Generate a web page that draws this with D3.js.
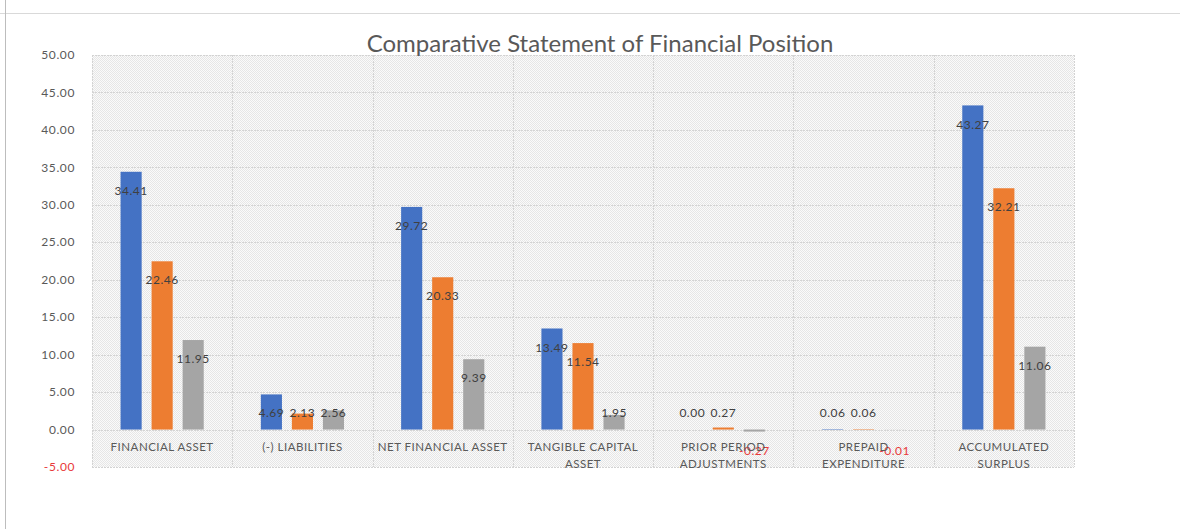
<!DOCTYPE html>
<html lang="en">
<head>
<meta charset="utf-8">
<script src="https://d3js.org/d3.v7.min.js"></script>
<style>
  body { margin: 0; background: #fff; }
  svg text { font-family: Lato, "Open Sans", sans-serif; }
  .tick-y { font-size: 12px; fill: #595959; letter-spacing: 0.6px; }
  .cat { font-size: 11.5px; fill: #595959; letter-spacing: 0.5px; }
  .val { font-size: 12px; fill: #404040; letter-spacing: 0.5px; }
</style>
</head>
<body>
<svg width="1180" height="529"></svg>
<script>
  // chart data
  var categories = ["FINANCIAL ASSET", "(-) LIABILITIES", "NET FINANCIAL ASSET",
    "TANGIBLE CAPITAL ASSET", "PRIOR PERIOD ADJUSTMENTS", "PREPAID EXPENDITURE",
    "ACCUMULATED SURPLUS"];
  // how each category label breaks onto lines
  var tickLines = [["FINANCIAL ASSET"], ["(-) LIABILITIES"], ["NET FINANCIAL ASSET"],
    ["TANGIBLE CAPITAL", "ASSET"], ["PRIOR PERIOD", "ADJUSTMENTS"],
    ["PREPAID", "EXPENDITURE"], ["ACCUMULATED", "SURPLUS"]];
  var series1 = [34.41, 4.69, 29.72, 13.49, 0.00, 0.06, 43.27];
  var series2 = [22.46, 2.13, 20.33, 11.54, 0.27, 0.06, 32.21];
  var series3 = [11.95, 2.56, 9.39, 1.95, -0.27, -0.01, 11.06];
  var yTicks = [-5, 0, 5, 10, 15, 20, 25, 30, 35, 40, 45, 50];
  var seriesColors = ["#4472C4", "#ED7D31", "#A5A5A5"];
  var title = "Comparative Statement of Financial Position";

  var allSeries = [series1, series2, series3];

  var svg = d3.select("svg");
  // plot area edges ("top" is taken by window.top, hence the prefix)
  var plotL = 92, plotR = 1074, plotT = 55, plotB = 467;

  var x = d3.scaleBand().domain(categories).range([plotL, plotR]);
  var inner = d3.scaleBand().domain([0, 1, 2])
      .range([0, x.bandwidth()]).paddingInner(0.32).paddingOuter(0.92);
  var y = d3.scaleLinear().domain([-5, 50]).range([plotB, plotT]);

  // sheet edges behind the chart
  svg.append("line").attr("x1", 0).attr("x2", 1180).attr("y1", 13.5).attr("y2", 13.5)
      .attr("stroke", "#d9d9d9");
  svg.append("line").attr("x1", 5.5).attr("x2", 5.5).attr("y1", 0).attr("y2", 529)
      .attr("stroke", "#bdbdbd");

  // dotted pattern fill for the plot area
  var pat = svg.append("defs").append("pattern").attr("id", "dots")
      .attr("width", 2).attr("height", 2).attr("patternUnits", "userSpaceOnUse");
  pat.append("rect").attr("width", 2).attr("height", 2).attr("fill", "#fafafa");
  pat.append("rect").attr("width", 1).attr("height", 1).attr("fill", "#e6e6e6");
  pat.append("rect").attr("x", 1).attr("y", 1).attr("width", 1).attr("height", 1).attr("fill", "#e6e6e6");

  svg.append("rect").attr("x", plotL).attr("y", plotT)
      .attr("width", plotR - plotL).attr("height", plotB - plotT)
      .attr("fill", "url(#dots)");

  // gridlines
  svg.append("g").selectAll("line").data(yTicks).enter().append("line")
      .attr("x1", plotL).attr("x2", plotR)
      .attr("y1", function (d) { return Math.round(y(d)) + 0.5; })
      .attr("y2", function (d) { return Math.round(y(d)) + 0.5; })
      .attr("stroke", "#d3d3d3").attr("stroke-dasharray", "2,1");
  var edges = categories.map(function (c) { return x(c); }).concat([plotR]);
  svg.append("g").selectAll("line").data(edges).enter().append("line")
      .attr("x1", function (d) { return Math.round(d) + 0.5; })
      .attr("x2", function (d) { return Math.round(d) + 0.5; })
      .attr("y1", plotT).attr("y2", plotB)
      .attr("stroke", "#d3d3d3").attr("stroke-dasharray", "2,1");

  // y axis labels, negatives in red
  svg.append("g").selectAll("text").data(yTicks).enter().append("text")
      .attr("class", "tick-y")
      .attr("x", 75).attr("y", function (d) { return y(d); })
      .attr("dy", "0.35em").attr("text-anchor", "end")
      .style("fill", function (d) { return d < 0 ? "#e8393a" : null; })
      .text(function (d) { return d.toFixed(2); });

  // bars
  allSeries.forEach(function (vals, s) {
    svg.append("g").selectAll("rect").data(vals).enter().append("rect")
        .attr("x", function (d, i) { return x(categories[i]) + inner(s); })
        .attr("width", inner.bandwidth())
        .attr("y", function (d) { return y(Math.max(0, d)); })
        .attr("height", function (d) { return Math.abs(y(d) - y(0)); })
        .attr("fill", seriesColors[s]);
  });

  // value labels near the bar ends
  allSeries.forEach(function (vals, s) {
    svg.append("g").selectAll("text").data(vals).enter().append("text")
        .attr("class", "val")
        .attr("x", function (d, i) { return x(categories[i]) + inner(s) + inner.bandwidth() / 2; })
        .attr("y", function (d) {
          if (d < 0) return y(0) + 21;
          return Math.min(y(d) + 19, y(0) - 17);
        })
        .attr("dy", "0.35em").attr("text-anchor", "middle")
        .style("fill", function (d) { return d < 0 ? "#e8393a" : null; })
        .text(function (d) { return d.toFixed(2); });
  });

  // category labels
  var cat = svg.append("g").selectAll("text").data(categories).enter().append("text")
      .attr("class", "cat")
      .attr("x", function (d) { return x(d) + x.bandwidth() / 2; })
      .attr("y", 451).attr("dy", "0.35em").attr("text-anchor", "middle");
  cat.each(function (d, i) {
    d3.select(this).selectAll("tspan").data(tickLines[i]).enter().append("tspan")
        .attr("x", x(d) + x.bandwidth() / 2)
        .attr("dy", function (t, j) { return j === 0 ? 0 : 17; })
        .text(function (t) { return t; });
  });

  svg.append("text").attr("x", 600).attr("y", 52)
      .attr("text-anchor", "middle")
      .style("font-size", "24px").style("fill", "#595959")
      .text(title);
</script>
</body>
</html>
